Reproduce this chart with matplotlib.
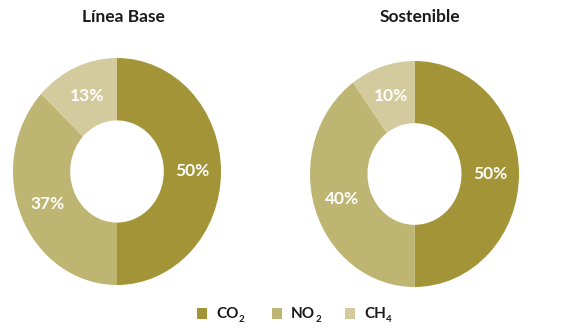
import matplotlib
matplotlib.use("Agg")
import matplotlib.pyplot as plt
from matplotlib.patches import Rectangle

titles = ["Línea Base", "Sostenible"]
gas_names = ["CO", "NO", "CH"]
gas_subs = ["2", "2", "4"]
linea_base = [50, 37, 13]
sostenible = [50, 40, 10]
colors = ["#A39537", "#BFB573", "#D3CB9D"]

plt.rcParams['font.family'] = ['Lato', 'DejaVu Sans']

W, H = 566, 329
fig = plt.figure(figsize=(W / 100, H / 100), dpi=100)

def px_axes(x0, y0, x1, y1):
    return fig.add_axes([x0 / W, 1 - y1 / H, (x1 - x0) / W, (y1 - y0) / H])

boxes = [(13, 58, 221, 285), (310, 61, 519, 287)]
title_pos = [(123, 17), (420, 17)]

for box, vals, title, tp in zip(boxes, [linea_base, sostenible], titles, title_pos):
    ax = px_axes(*box)
    ax.pie(vals, colors=colors, startangle=90, counterclock=False,
           wedgeprops=dict(width=0.55, linewidth=0),
           autopct=lambda p: f"{p:.0f}%", pctdistance=0.725,
           textprops=dict(color="white", fontsize=12.5, fontweight="bold"))
    ax.set_aspect('auto')
    ax.set_xlim(-1, 1)
    ax.set_ylim(-1, 1)
    ax.axis('off')
    fig.text(tp[0] / W, 1 - tp[1] / H, title, ha='center', va='center',
             fontsize=12.5, fontweight='bold', color='#1a1a1a')

# legend
renderer = fig.canvas.get_renderer()
leg_sq = [197, 272, 345]
for xs, name, sub, c in zip(leg_sq, gas_names, gas_subs, colors):
    fig.patches.append(Rectangle((xs / W, 1 - 319 / H), 10 / W, 11 / H,
                                 transform=fig.transFigure, color=c, linewidth=0))
    t = fig.text((xs + 19) / W, 1 - 314 / H, name, ha='left', va='center',
                 fontsize=11, fontweight='bold', color='#1a1a1a')
    bb = t.get_window_extent(renderer)
    fig.text((bb.x1 + 0.5) / W, 1 - 320 / H, sub, ha='left', va='center',
             fontsize=7, fontweight='bold', color='#1a1a1a')

fig.savefig("out.png", dpi=100)
